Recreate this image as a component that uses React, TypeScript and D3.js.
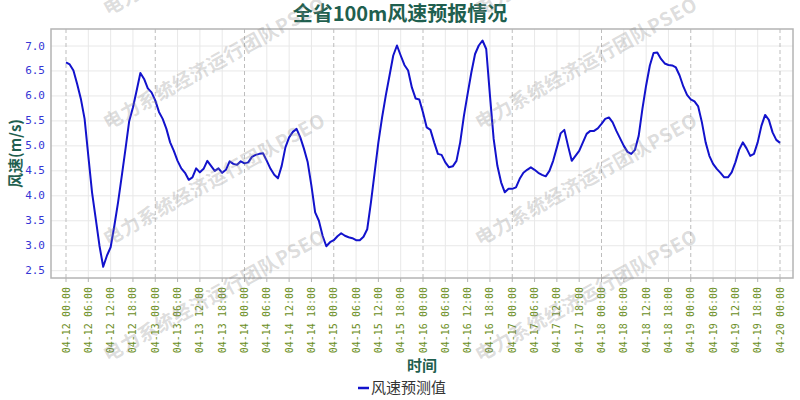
import React from 'react';
import * as d3 from 'd3';

const chartTitle = '全省100m风速预报情况';
const yAxisLabel = '风速(m/s)';
const xAxisLabel = '时间';
const seriesName = '风速预测值';
const watermarkText = '电力系统经济运行团队PSEO';

const tickDays = ['04-12', '04-13', '04-14', '04-15', '04-16', '04-17', '04-18', '04-19', '04-20'];
const tickHours = ['00:00', '06:00', '12:00', '18:00'];
const yTickValues = [2.5, 3.0, 3.5, 4.0, 4.5, 5.0, 5.5, 6.0, 6.5, 7.0];

// hourly wind speed forecast from 04-12 00:00 to 04-20 00:00 (m/s)
const windSpeed = [
  6.67, 6.63, 6.51, 6.24, 5.94, 5.54, 4.80, 4.07, 3.54, 3.00, 2.58, 2.80,
  2.97, 3.40, 3.87, 4.40, 4.94, 5.50, 5.77, 6.11, 6.46, 6.34, 6.15, 6.07,
  5.91, 5.68, 5.54, 5.34, 5.07, 4.90, 4.70, 4.55, 4.46, 4.32, 4.37, 4.55,
  4.47, 4.54, 4.70, 4.60, 4.50, 4.55, 4.46, 4.52, 4.69, 4.64, 4.62, 4.69,
  4.65, 4.67, 4.78, 4.82, 4.84, 4.85, 4.70, 4.54, 4.42, 4.35, 4.60, 4.97,
  5.17, 5.28, 5.34, 5.17, 4.94, 4.67, 4.20, 3.67, 3.50, 3.20, 2.99, 3.07,
  3.11, 3.19, 3.25, 3.20, 3.17, 3.15, 3.11, 3.11, 3.18, 3.33, 3.87, 4.47,
  5.07, 5.57, 6.01, 6.41, 6.81, 7.01, 6.81, 6.62, 6.51, 6.17, 5.95, 5.93,
  5.67, 5.37, 5.32, 5.07, 4.84, 4.82, 4.67, 4.57, 4.59, 4.70, 5.07, 5.60,
  6.04, 6.47, 6.84, 7.01, 7.11, 6.94, 6.01, 5.14, 4.60, 4.27, 4.07, 4.14,
  4.14, 4.17, 4.34, 4.46, 4.52, 4.57, 4.52, 4.46, 4.42, 4.39, 4.50, 4.70,
  4.97, 5.25, 5.32, 5.00, 4.70, 4.80, 4.90, 5.07, 5.24, 5.30, 5.30, 5.35,
  5.44, 5.54, 5.57, 5.47, 5.30, 5.15, 5.00, 4.88, 4.84, 4.92, 5.20, 5.74,
  6.21, 6.61, 6.86, 6.87, 6.74, 6.65, 6.62, 6.61, 6.57, 6.41, 6.19, 6.02,
  5.93, 5.89, 5.79, 5.47, 5.07, 4.80, 4.64, 4.54, 4.46, 4.37, 4.37, 4.47,
  4.67, 4.92, 5.07, 4.95, 4.80, 4.84, 5.07, 5.40, 5.62, 5.52, 5.27, 5.12,
  5.06,
];

const CJK = '"Noto Sans CJK SC", "Noto Sans", sans-serif';
const MONO = '"DejaVu Sans Mono", "Liberation Mono", monospace';

export default function App() {
  const W = 800;
  const H = 400;
  const frame = { left: 51, right: 793, top: 29, bottom: 278 };

  const totalHours = (tickDays.length - 1) * 24;
  const x = d3.scaleLinear().domain([0, totalHours]).range([66, 780]);
  const y = d3.scaleLinear().domain([2.5, 7.0]).range([270.7, 46]);

  const xTicks: { hr: number; label: string; major: boolean }[] = [];
  tickDays.forEach((d, di) => {
    tickHours.forEach((h, hi) => {
      const hr = di * 24 + hi * 6;
      if (hr <= totalHours) xTicks.push({ hr, label: `${d} ${h}`, major: hi === 0 });
    });
  });

  const linePath = d3
    .line<number>()
    .x((_, i) => x(i))
    .y((d) => y(d))(windSpeed) as string;

  const fmt = d3.format('.1f');

  const wmPositions = [
    [108, 16], [108, 130], [108, 246], [108, 362],
    [480, 16], [480, 130], [480, 246], [480, 362],
  ];

  return (
    <svg
      width={W}
      height={H}
      style={{ position: 'absolute', left: 0, top: 0, background: '#fff' }}
    >
      <rect x={0} y={0} width={W} height={H} fill="#fff" />

      {/* grid */}
      <g>
        {yTickValues.map((v) => (
          <line key={'hy' + v} x1={frame.left} x2={frame.right} y1={y(v)} y2={y(v)} stroke="#e8e8e8" strokeWidth={1} />
        ))}
        {xTicks.map((t) =>
          t.major ? (
            <line key={'gx' + t.hr} x1={x(t.hr)} x2={x(t.hr)} y1={frame.top} y2={frame.bottom} stroke="#bdbdbd" strokeWidth={1} strokeDasharray="4,3" />
          ) : (
            <line key={'gx' + t.hr} x1={x(t.hr)} x2={x(t.hr)} y1={frame.top} y2={frame.bottom} stroke="#e8e8e8" strokeWidth={1} />
          )
        )}
      </g>

      {/* frame */}
      <rect
        x={frame.left}
        y={frame.top}
        width={frame.right - frame.left}
        height={frame.bottom - frame.top}
        fill="none"
        stroke="#b4b4b4"
        strokeWidth={1.5}
      />

      {/* x ticks */}
      {xTicks.map((t) => (
        <g key={'xt' + t.hr}>
          <line x1={x(t.hr)} x2={x(t.hr)} y1={frame.bottom} y2={frame.bottom + 4} stroke="#b4b4b4" strokeWidth={1} />
          <text
            transform={`translate(${x(t.hr)},${frame.bottom + 9}) rotate(-90)`}
            textAnchor="end"
            dominantBaseline="central"
            fontFamily={MONO}
            fontSize={10}
            fill="#6b8e23"
          >
            {t.label}
          </text>
        </g>
      ))}

      {/* y ticks */}
      {yTickValues.map((v) => (
        <text
          key={'yt' + v}
          x={frame.left - 6}
          y={y(v)}
          textAnchor="end"
          dominantBaseline="central"
          fontFamily={MONO}
          fontSize={11}
          fill="#3535d5"
        >
          {fmt(v)}
        </text>
      ))}

      {/* series */}
      <path d={linePath} fill="none" stroke="#1212cc" strokeWidth={2} strokeLinejoin="round" />

      {/* title & labels */}
      <text x={400} y={21} textAnchor="middle" fontFamily={CJK} fontWeight="bold" fontSize={20} fill="#1f5f4f">
        {chartTitle}
      </text>
      <text
        transform={`translate(14,${(frame.top + frame.bottom) / 2}) rotate(-90)`}
        textAnchor="middle"
        dominantBaseline="central"
        fontFamily={CJK}
        fontWeight="bold"
        fontSize={15}
        fill="#1f5f4f"
      >
        {yAxisLabel}
      </text>
      <text x={(frame.left + frame.right) / 2} y={371} textAnchor="middle" fontFamily={CJK} fontWeight="bold" fontSize={15} fill="#1f5f4f">
        {xAxisLabel}
      </text>

      {/* legend */}
      <line x1={358} x2={369} y1={388} y2={388} stroke="#1212cc" strokeWidth={2.5} />
      <text x={371} y={393} fontFamily={CJK} fontSize={15} fill="#333">
        {seriesName}
      </text>

      {/* watermark */}
      <g pointerEvents="none">
        {wmPositions.map(([wx, wy], i) => (
          <text
            key={'wm' + i}
            transform={`translate(${wx},${wy}) rotate(-29)`}
            fontFamily={CJK}
            fontWeight="bold"
            fontSize={19}
            fill="#8c8c8c"
            fillOpacity={0.3}
            textLength={250}
            lengthAdjust="spacing"
          >
            {watermarkText}
          </text>
        ))}
      </g>
    </svg>
  );
}
